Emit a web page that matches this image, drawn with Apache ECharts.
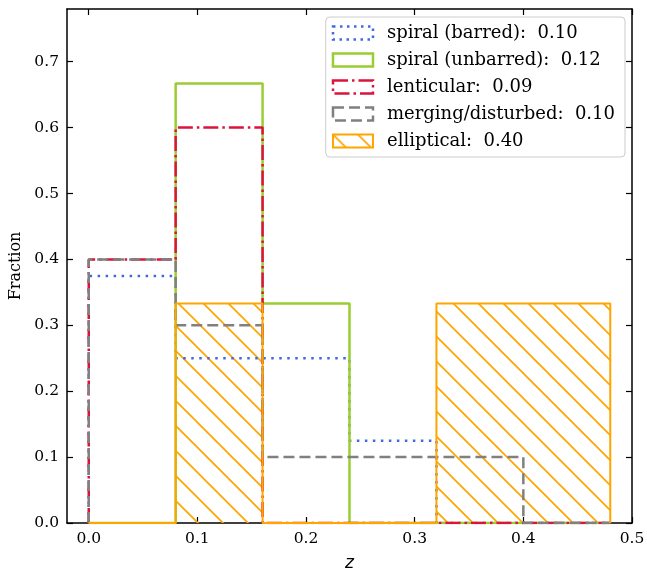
<!DOCTYPE html>
<html>
<head>
<meta charset="utf-8">
<script src="https://cdn.jsdelivr.net/npm/echarts@6/dist/echarts.min.js"></script>
<style>
  html, body { margin: 0; padding: 0; background: #fff; }
  #chart { width: 647px; height: 571px; }
</style>
</head>
<body>
<div id="chart"></div>
<script>
// bin edges in redshift, shared by every histogram
var binEdges = [0, 0.08, 0.16, 0.24, 0.32, 0.40, 0.48];

// fraction per bin for each morphology class
var barredVals    = [0.375, 0.25, 0.25, 0.125, 0, 0];
var unbarredVals  = [0, 0.667, 0.333, 0, 0, 0];
var lenticVals    = [0.4, 0.6, 0, 0, 0, 0];
var mergingVals   = [0.4, 0.3, 0.1, 0.1, 0.1, 0];
var ellipticVals  = [0, 0.333, 0, 0, 0.333, 0.333];

var seriesNames = [
  'spiral (barred):  0.10',
  'spiral (unbarred):  0.12',
  'lenticular:  0.09',
  'merging/disturbed:  0.10',
  'elliptical:  0.40'
];

var xTicks = [0, 0.1, 0.2, 0.3, 0.4, 0.5];
var yTicks = [0, 0.1, 0.2, 0.3, 0.4, 0.5, 0.6, 0.7];

var serif = 'DejaVu Serif';

// outline of a step histogram, like histtype='step'
function stepPoints(edges, vals) {
  var pts = [[edges[0], 0]];
  for (var i = 0; i < vals.length; i++) {
    pts.push([edges[i], vals[i]]);
    pts.push([edges[i + 1], vals[i]]);
  }
  pts.push([edges[edges.length - 1], 0]);
  return pts;
}

// diagonal hatch '\\' for the elliptical histogram
function hatchPattern(color) {
  var c = document.createElement('canvas');
  c.width = 25; c.height = 25;
  var ctx = c.getContext('2d');
  ctx.strokeStyle = color;
  ctx.lineWidth = 1.7;
  for (var k = -1; k <= 1; k++) {
    ctx.beginPath();
    ctx.moveTo(k * 25 - 2, -2);
    ctx.lineTo(k * 25 + 27, 27);
    ctx.stroke();
  }
  return { image: c, repeat: 'repeat' };
}
var hatch = hatchPattern('#ffa500');

function stepSeries(name, vals, color, width, dash) {
  return {
    name: name,
    type: 'line',
    data: stepPoints(binEdges, vals),
    showSymbol: false,
    symbol: 'none',
    silent: true,
    lineStyle: { color: color, width: width, type: dash },
    itemStyle: { color: color }
  };
}

var series = [
  stepSeries(seriesNames[0], barredVals, '#4169e1', 2.5, [2.5, 5.5]),
  stepSeries(seriesNames[1], unbarredVals, '#9acd32', 2.5, 'solid'),
  stepSeries(seriesNames[2], lenticVals, '#dc143c', 2.5, [15, 4, 2.5, 4]),
  stepSeries(seriesNames[3], mergingVals, '#808080', 2.5, [11, 5]),
  stepSeries(seriesNames[4], ellipticVals, '#ffa500', 2, 'solid')
];
series[4].areaStyle = { color: hatch, opacity: 1 };

// legend icons: boxes outlined in each series' style
var legendData = [
  { name: seriesNames[0], itemStyle: { color: 'transparent', borderColor: '#4169e1', borderWidth: 2.5, borderType: [2.5, 4.5] } },
  { name: seriesNames[1], itemStyle: { color: 'transparent', borderColor: '#9acd32', borderWidth: 2.5, borderType: 'solid' } },
  { name: seriesNames[2], itemStyle: { color: 'transparent', borderColor: '#dc143c', borderWidth: 2.5, borderType: [15, 4, 2.5, 4] } },
  { name: seriesNames[3], itemStyle: { color: 'transparent', borderColor: '#808080', borderWidth: 2.5, borderType: [11, 5] } },
  { name: seriesNames[4], itemStyle: { color: hatch, borderColor: '#ffa500', borderWidth: 2, borderType: 'solid' } }
];

function axisCommon(min, max, ticks, showLabel) {
  return {
    type: 'value',
    min: min,
    max: max,
    axisLine: { show: true, onZero: false, lineStyle: { color: '#000', width: 1.5 } },
    axisTick: { show: true, inside: true, length: 6, customValues: ticks, lineStyle: { color: '#000', width: 1.2 } },
    axisLabel: {
      show: showLabel,
      customValues: ticks,
      margin: 8,
      fontFamily: serif,
      fontSize: 15.5,
      color: '#000',
      formatter: function (v) { return v.toFixed(1); }
    },
    splitLine: { show: false }
  };
}

var xBottom = axisCommon(-0.02, 0.5, xTicks, true);
xBottom.position = 'bottom';
xBottom.name = 'z';
xBottom.nameLocation = 'middle';
xBottom.nameGap = 32;
xBottom.nameTextStyle = { fontFamily: 'DejaVu Sans', fontStyle: 'italic', fontSize: 17, color: '#000' };
var xTop = axisCommon(-0.02, 0.5, xTicks, false);
xTop.position = 'top';

var yLeft = axisCommon(0, 0.78, yTicks, true);
yLeft.position = 'left';
yLeft.name = 'Fraction';
yLeft.nameLocation = 'middle';
yLeft.nameGap = 43;
yLeft.nameTextStyle = { fontFamily: serif, fontSize: 16, color: '#000' };
var yRight = axisCommon(0, 0.78, yTicks, false);
yRight.position = 'right';

var myChart = echarts.init(document.getElementById('chart'), null, { renderer: 'canvas' });
var option = {
  animation: false,
  backgroundColor: '#fff',
  grid: { left: 67, right: 15, top: 9, bottom: 48, outerBoundsMode: 'none' },
  xAxis: [xBottom, xTop],
  yAxis: [yLeft, yRight],
  legend: {
    orient: 'vertical',
    right: 22,
    top: 17,
    icon: 'rect',
    itemWidth: 40,
    itemHeight: 13,
    itemGap: 9,
    padding: [7, 10, 7, 6],
    backgroundColor: 'rgba(255,255,255,0.85)',
    borderColor: '#cccccc',
    borderWidth: 1,
    borderRadius: 4,
    selectedMode: false,
    textStyle: { fontFamily: serif, fontSize: 18, color: '#000', padding: [0, 0, 0, 9] },
    data: legendData
  },
  series: series
};
myChart.setOption(option);
</script>
</body>
</html>
